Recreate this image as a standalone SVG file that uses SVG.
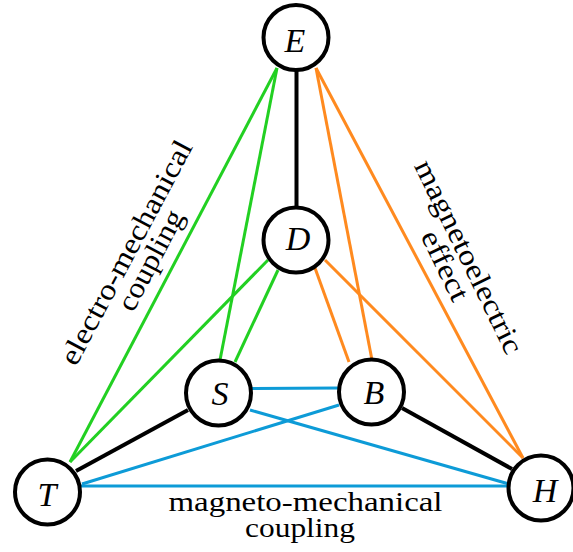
<svg xmlns="http://www.w3.org/2000/svg" width="573" height="552" viewBox="0 0 573 552">
<style>
.g{stroke:#22d022;stroke-width:3;fill:none}
.o{stroke:#ff8a1f;stroke-width:3;fill:none}
.b{stroke:#0d9bd7;stroke-width:3;fill:none}
.k{stroke:#000;stroke-width:4;fill:none}
.node circle{fill:#fff;stroke:#000;stroke-width:4}
.node text{font-family:"Liberation Serif","DejaVu Serif",serif;font-style:italic;font-size:34px;text-anchor:middle;fill:#000}
text.lbl{font-family:"Liberation Serif","DejaVu Serif",serif;font-style:normal;font-size:29px;text-anchor:middle;fill:#000}
text.bot{font-size:27px}
</style>
<rect width="573" height="552" fill="#fff"/>
<g id="connectors">
<line class="g" x1="277" y1="68" x2="70" y2="462"/>
<line class="g" x1="277" y1="68" x2="220" y2="360"/>
<line class="g" x1="268" y1="260" x2="70" y2="462"/>
<line class="g" x1="278" y1="270" x2="235" y2="362"/>
<line class="o" x1="316" y1="68" x2="372" y2="360"/>
<line class="o" x1="316" y1="68" x2="523" y2="458"/>
<line class="o" x1="315" y1="268" x2="349" y2="362"/>
<line class="o" x1="325" y1="260" x2="523" y2="458"/>
<line class="k" x1="296.5" y1="70" x2="296.5" y2="207"/>
<line class="k" x1="188" y1="410" x2="76" y2="471"/>
<line class="k" x1="402" y1="408" x2="512" y2="469"/>
<line class="b" x1="251" y1="388.5" x2="339" y2="388"/>
<line class="b" x1="250" y1="410" x2="509" y2="484"/>
<line class="b" x1="339" y1="405" x2="82" y2="484"/>
<line class="b" x1="80" y1="486" x2="509" y2="486"/>
</g>
<g id="E" class="node"><circle cx="296" cy="37.5" r="32.5"/><text x="295" y="52">E</text></g>
<g id="D" class="node"><circle cx="296" cy="240" r="32.5"/><text x="298" y="250">D</text></g>
<g id="S" class="node"><circle cx="218.5" cy="393" r="32.5"/><text x="220" y="405">S</text></g>
<g id="B" class="node"><circle cx="371.5" cy="392" r="32.5"/><text x="374" y="404">B</text></g>
<g id="T" class="node"><circle cx="47.5" cy="492" r="32.5"/><text x="47" y="505.5">T</text></g>
<g id="H" class="node"><circle cx="541" cy="488" r="32.5"/><text x="545" y="502">H</text></g>
<g id="labels" font-family="Liberation Serif, DejaVu Serif, serif">
<g transform="translate(140.5,257.5) rotate(-62)">
<text class="lbl" x="-2.3" y="-5.5" textLength="250" lengthAdjust="spacingAndGlyphs">electro-mechanical</text>
<text class="lbl" x="2.3" y="19.5" textLength="110" lengthAdjust="spacingAndGlyphs">coupling</text>
</g>
<g transform="translate(454.75,262.25) rotate(64)">
<text class="lbl" x="1.3" y="-5.5" textLength="212" lengthAdjust="spacingAndGlyphs">magnetoelectric</text>
<text class="lbl" x="-1.3" y="19.5" textLength="75" lengthAdjust="spacingAndGlyphs">effect</text>
</g>
<text class="lbl bot" x="305.5" y="511" textLength="274" lengthAdjust="spacingAndGlyphs">magneto-mechanical</text>
<text class="lbl bot" x="300" y="537" textLength="110" lengthAdjust="spacingAndGlyphs">coupling</text>
</g>
</svg>
